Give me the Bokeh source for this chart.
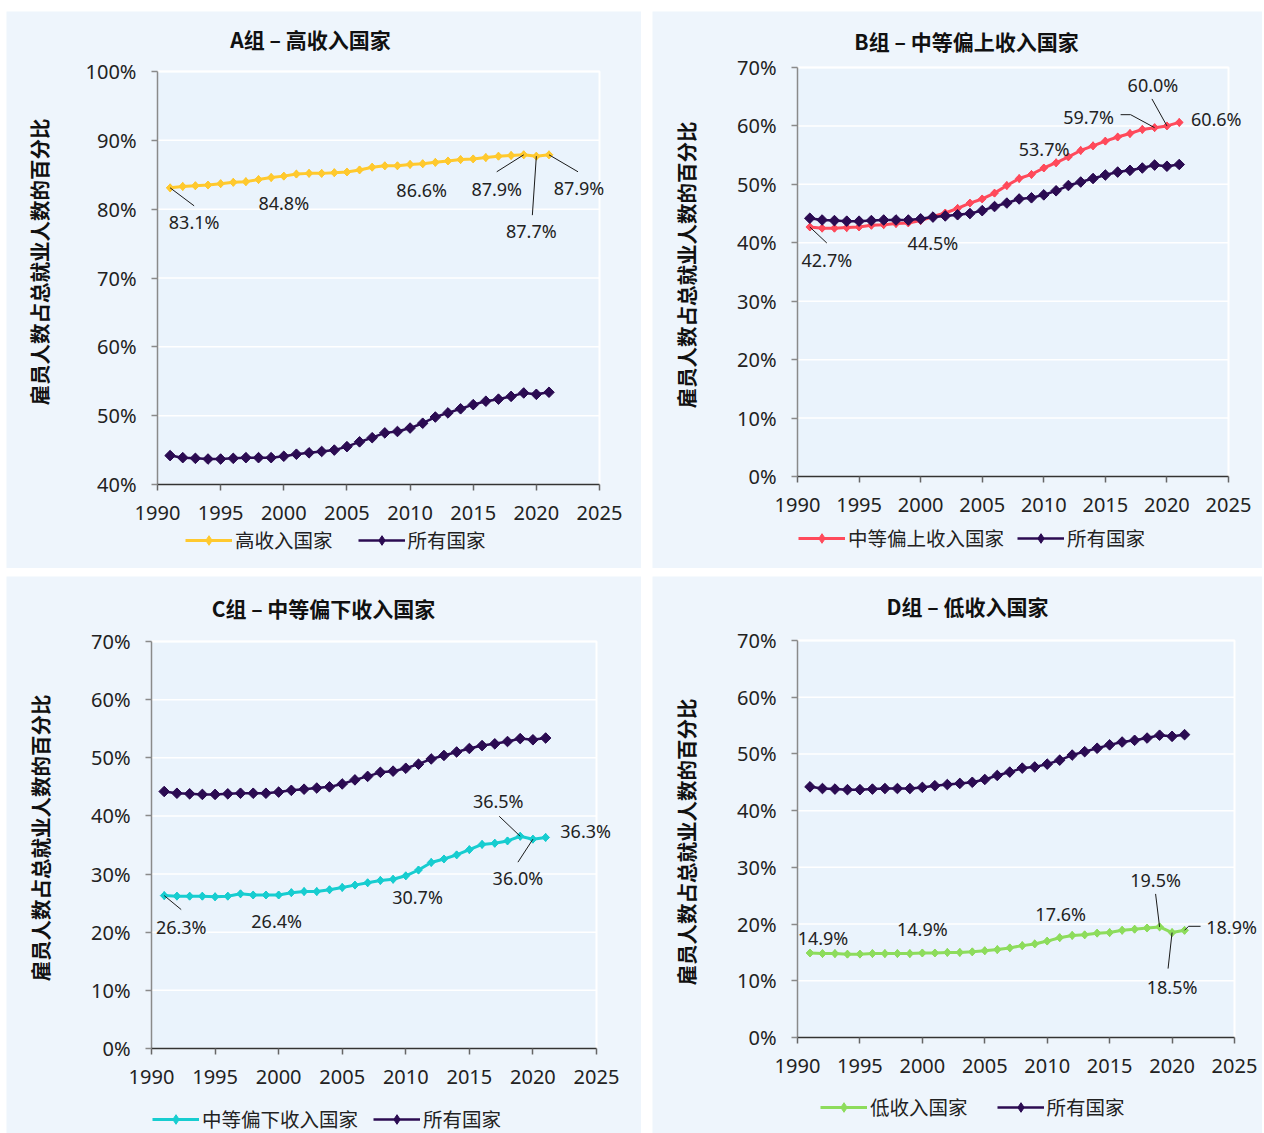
from bokeh.plotting import figure
from bokeh.models import Legend, LegendItem, Label, FixedTicker, PrintfTickFormatter, Range1d
from bokeh.layouts import row, column
from bokeh.embed import file_html
from bokeh.resources import INLINE

# ---------------------------------------------------------------- data
years = list(range(1991, 2022))

all_countries = [44.2, 43.9, 43.8, 43.7, 43.7, 43.8, 43.9, 43.9, 43.9, 44.1,
                 44.4, 44.6, 44.8, 45.0, 45.5, 46.2, 46.8, 47.5, 47.7, 48.2,
                 48.9, 49.8, 50.4, 51.0, 51.6, 52.1, 52.4, 52.8, 53.3, 53.1, 53.4]
high_income = [83.1, 83.3, 83.4, 83.5, 83.7, 83.9, 84.0, 84.3, 84.6, 84.8,
               85.1, 85.2, 85.2, 85.3, 85.4, 85.7, 86.1, 86.3, 86.3, 86.5,
               86.6, 86.8, 87.0, 87.2, 87.3, 87.5, 87.7, 87.8, 87.9, 87.7, 87.9]
upper_middle = [42.7, 42.5, 42.5, 42.6, 42.7, 43.0, 43.1, 43.3, 43.4, 43.8,
                44.5, 45.1, 45.9, 46.8, 47.5, 48.5, 49.8, 51.0, 51.7, 52.8,
                53.7, 54.7, 55.8, 56.6, 57.4, 58.1, 58.7, 59.4, 59.7, 60.0, 60.6]
lower_middle = [26.3, 26.2, 26.2, 26.2, 26.1, 26.2, 26.6, 26.4, 26.4, 26.4,
                26.8, 27.0, 27.0, 27.3, 27.7, 28.1, 28.5, 28.9, 29.1, 29.7,
                30.7, 32.0, 32.6, 33.3, 34.2, 35.1, 35.3, 35.7, 36.5, 36.0, 36.3]
low_income = [14.9, 14.8, 14.8, 14.7, 14.7, 14.8, 14.8, 14.8, 14.8, 14.9,
              14.9, 15.0, 15.0, 15.1, 15.3, 15.5, 15.8, 16.2, 16.5, 17.0,
              17.6, 18.0, 18.1, 18.4, 18.5, 18.9, 19.1, 19.3, 19.5, 18.5, 18.9]

x_ticks = [1990, 1995, 2000, 2005, 2010, 2015, 2020, 2025]
all_name = "所有国家"
y_title = "雇员人数占总就业人数的百分比"

# ---------------------------------------------------------------- style
CHART_BG = "#EEF5FC"
PLOT_BG = "#EAF3FC"
DARK = "#2B0B52"
AXIS_GREY = "#8A8A8A"
TEXT = "#222222"
CJK = "Noto Sans CJK SC"
LATIN = "Noto Sans"

# Each chart: figure size, plot area (left, right, top, bottom) in pixels from the
# chart's top-left corner, title centre, legend bottom-left (from chart's bottom-left),
# vertical nudge of the y-axis title (pixels, up).
# Labelled years: (year, label dx, label dy, leader path), pixels from the point, y down.
panels = [
    dict(title="A组 – 高收入国家", name="高收入国家", values=high_income, color="#FFC92E",
         y_range=(40, 100), size=(635, 557), area=(151, 593, 60, 473),
         title_at=(304, 27), legend_at=(179, 14), legend_spacing=25,
         ylabel_standoff=29, ylabel_shift=16,
         labels=[(1991, 24, 34, [(0, 0), (24, 18)]),
                 (2000, 0, 27, None),
                 (2011, -1, 26, None),
                 (2019, -27, 34, [(0, 0), (-27, 17)]),
                 (2020, -5, 75, [(0, 0), (-4, 59)]),
                 (2021, 30, 33, [(0, 0), (29, 17)])]),
    dict(title="B组 – 中等偏上收入国家", name="中等偏上收入国家", values=upper_middle, color="#FF4A5B",
         y_range=(0, 70), size=(610, 557), area=(145, 576, 56, 465),
         title_at=(314, 29), legend_at=(146, 16), legend_spacing=13,
         ylabel_standoff=33, ylabel_shift=7,
         labels=[(1991, 17, 33, [(0, 0), (17, 16)]),
                 (2001, 0, 27, None),
                 (2011, -12, -14, None),
                 (2019, -66, -11, [(0, 0), (-24, -13), (-34, -13)]),
                 (2020, -14, -41, [(0, 0), (-15, -27)]),
                 (2021, 37, -3, None)]),
    dict(title="C组 – 中等偏下收入国家", name="中等偏下收入国家", values=lower_middle, color="#17CDD0",
         y_range=(0, 70), size=(635, 557), area=(145, 590, 65, 472),
         title_at=(317, 31), legend_at=(146, 0), legend_spacing=15,
         ylabel_standoff=33, ylabel_shift=7,
         labels=[(1991, 17, 31, [(0, 0), (17, 14)]),
                 (2000, -2, 26, None),
                 (2011, -1, 27, None),
                 (2019, -22, -35, [(0, 0), (-21, -20)]),
                 (2020, -15, 39, [(0, 0), (-15, 23)]),
                 (2021, 40, -6, None)]),
    dict(title="D组 – 低收入国家", name="低收入国家", values=low_income, color="#8DDC5C",
         y_range=(0, 70), size=(610, 557), area=(145, 582, 64, 461),
         title_at=(315, 29), legend_at=(168, 12), legend_spacing=29,
         ylabel_standoff=33, ylabel_shift=-3,
         labels=[(1991, 13, -15, None),
                 (2000, 0, -24, None),
                 (2011, 1, -24, None),
                 (2019, -4, -47, [(0, 0), (-4, -33)]),
                 (2020, 0, 54, [(0, 0), (-4, 36)]),
                 (2021, 47, -3, [(0, 0), (4, -4), (16, -4)])]),
]


def make_panel(cfg):
    width, height = cfg["size"]
    pl, pr, pt, pb = cfg["area"]
    y0, y1 = cfg["y_range"]
    x0, x1 = x_ticks[0], x_ticks[-1]
    px_x = (x1 - x0) / (pr - pl)   # data units per pixel
    px_y = (y1 - y0) / (pb - pt)

    def at(sx, sy):
        """chart pixel position -> data coordinates"""
        return x0 + (sx - pl) * px_x, y1 - (sy - pt) * px_y

    # the frame fills the whole chart; the axes are pinned to the plot area
    p = figure(width=width, height=height, output_backend="svg", toolbar_location=None,
               x_range=Range1d(at(0, 0)[0], at(width, 0)[0]),
               y_range=Range1d(at(0, height)[1], at(0, 0)[1]),
               min_border=0, background_fill_color=CHART_BG, border_fill_color=CHART_BG,
               outline_line_color=None)

    # plot area, gridlines, its white edge and the value axis line
    y_ticks = list(range(y0, y1 + 1, 10))
    p.quad(left=x0, right=x1, bottom=y0, top=y1, fill_color=PLOT_BG, line_color=None)
    p.segment(x0=[x0] * len(y_ticks), x1=[x1] * len(y_ticks), y0=y_ticks, y1=y_ticks,
              line_color="white", line_width=1.5)
    p.line([x0, x1, x1], [y1, y1, y0], line_color="white", line_width=2)
    p.line([x0, x0], [y0, y1], line_color=AXIS_GREY, line_width=1.5)

    # axes
    shift = 2 * cfg["ylabel_shift"] * px_y
    p.xaxis.ticker = FixedTicker(ticks=x_ticks)
    p.yaxis.ticker = FixedTicker(ticks=y_ticks)
    p.xaxis.bounds = (x0, x1)
    p.yaxis.bounds = (y0, y1 + shift) if shift > 0 else (y0 + shift, y1)
    p.xaxis.fixed_location = y0
    p.yaxis.fixed_location = x0
    p.yaxis.formatter = PrintfTickFormatter(format="%d%%")
    for ax in (p.xaxis[0], p.yaxis[0]):
        ax.major_tick_in = 0
        ax.major_tick_out = 6
        ax.minor_tick_line_color = None
        ax.major_label_text_font = LATIN
        ax.major_label_text_font_size = "20px"
        ax.major_label_text_color = TEXT
        ax.axis_line_width = 1.5
        ax.major_tick_line_width = 1.5
    p.xaxis.axis_line_color = "#333333"
    p.xaxis.major_tick_line_color = "#666666"
    p.xaxis.major_label_standoff = 15
    p.yaxis.axis_line_color = None
    p.yaxis.major_tick_line_color = AXIS_GREY
    p.yaxis.major_label_standoff = 15
    p.yaxis.axis_label = y_title
    p.yaxis.axis_label_text_font = CJK
    p.yaxis.axis_label_text_font_style = "bold"
    p.yaxis.axis_label_text_font_size = "20.5px"
    p.yaxis.axis_label_text_color = "#111111"
    p.yaxis.axis_label_standoff = cfg["ylabel_standoff"]
    p.grid.grid_line_color = None

    # series: income group first, all countries drawn on top.
    # Each point gets a diamond key (shown in the legend) under a 45° square marker.
    l1 = p.line(years, cfg["values"], line_color=cfg["color"], line_width=3)
    k1 = p.scatter(years, cfg["values"], marker="diamond", size=8,
                   fill_color=cfg["color"], line_color=cfg["color"])
    p.scatter(years, cfg["values"], marker="square", angle=0.785398, size=5.5,
              fill_color=cfg["color"], line_color=cfg["color"], line_width=1)
    l2 = p.line(years, all_countries, line_color=DARK, line_width=2.5)
    k2 = p.scatter(years, all_countries, marker="diamond", size=9,
                   fill_color=DARK, line_color=DARK)
    p.scatter(years, all_countries, marker="square", angle=0.785398, size=7.5,
              fill_color=DARK, line_color=DARK, line_width=1)

    # chart title
    tx, ty = at(*cfg["title_at"])
    p.add_layout(Label(x=tx, y=ty, text=cfg["title"],
                       text_font=CJK, text_font_style="bold", text_font_size="21px",
                       text_color="#111111", text_align="center", text_baseline="middle"))

    # data labels with leader lines
    for year, dx, dy, path in cfg["labels"]:
        v = cfg["values"][years.index(year)]
        if path:
            xs = [year + ox * px_x for ox, oy in path]
            ys = [v - oy * px_y for ox, oy in path]
            p.line(xs, ys, line_color="#1A1A1A", line_width=1)
        p.add_layout(Label(x=year + dx * px_x, y=v - dy * px_y, text=f"{v:.1f}%",
                           text_font=LATIN, text_font_size="18px", text_color=TEXT,
                           text_align="center", text_baseline="middle"))

    legend = Legend(items=[LegendItem(label=cfg["name"], renderers=[l1, k1]),
                           LegendItem(label=all_name, renderers=[l2, k2])],
                    orientation="horizontal", location=cfg["legend_at"],
                    background_fill_alpha=0, border_line_color=None,
                    padding=0, margin=0, spacing=cfg["legend_spacing"],
                    glyph_width=47, glyph_height=24, label_height=24, label_standoff=3,
                    label_text_font=CJK, label_text_font_size="19.5px",
                    label_text_color=TEXT)
    p.add_layout(legend)
    return p


figs = [make_panel(c) for c in panels]
layout = column(row(figs[0], figs[1], spacing=11),
                row(figs[2], figs[3], spacing=11),
                spacing=8, margin=(11, 0, 0, 6))

open("out.html", "w").write(file_html(layout, INLINE))
